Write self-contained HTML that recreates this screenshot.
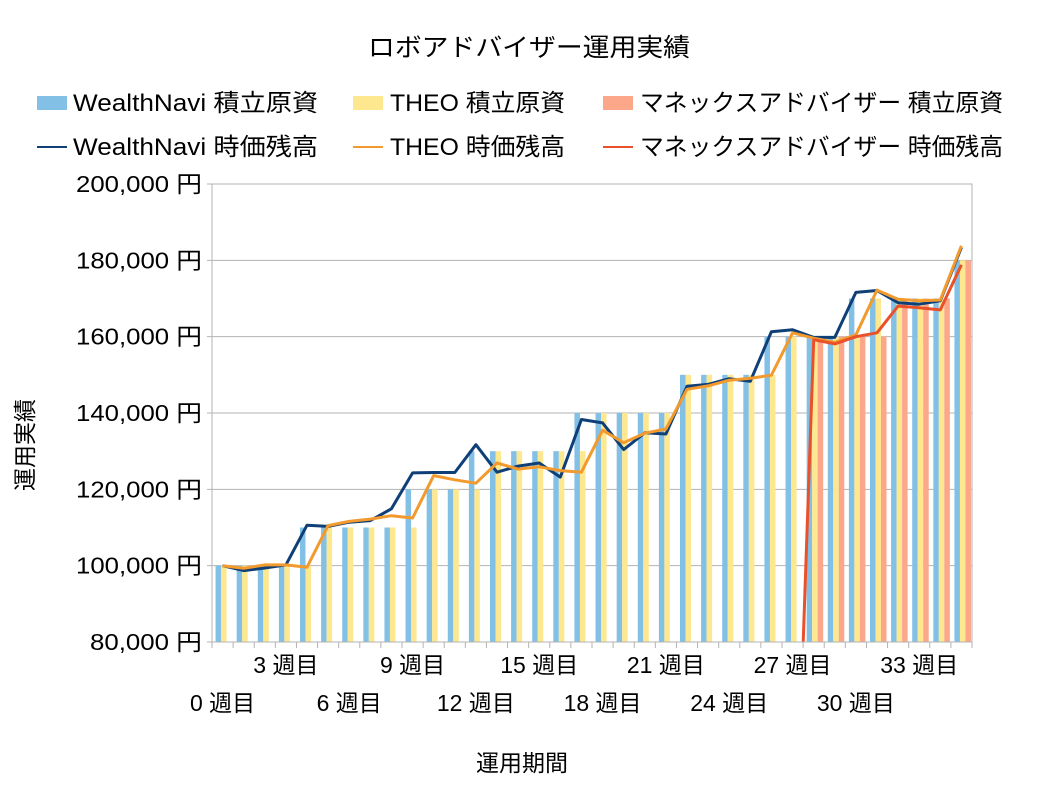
<!DOCTYPE html>
<html><head><meta charset="utf-8">
<style>
html,body{margin:0;padding:0;background:#fff;width:1058px;height:794px;overflow:hidden;}
svg{display:block;font-family:"Liberation Sans","Noto Sans CJK JP",sans-serif;}
</style></head>
<body>
<svg id="chart" width="1058" height="794" viewBox="0 0 1058 794">
<rect width="1058" height="794" fill="#fff"/>
<text x="368" y="56" textLength="322" lengthAdjust="spacingAndGlyphs" font-size="25" fill="#000">ロボアドバイザー運用実績</text>
<g font-size="24" fill="#000">
<rect x="37" y="96" width="30" height="14" fill="#83c0e6"/>
<text x="73" y="111" textLength="245" lengthAdjust="spacingAndGlyphs">WealthNavi 積立原資</text>
<rect x="353" y="96" width="30" height="14" fill="#fde78f"/>
<text x="390" y="111" textLength="175" lengthAdjust="spacingAndGlyphs">THEO 積立原資</text>
<rect x="603" y="96" width="30" height="14" fill="#fca68a"/>
<text x="640" y="111" textLength="363" lengthAdjust="spacingAndGlyphs">マネックスアドバイザー 積立原資</text>
<line x1="37" y1="147" x2="67" y2="147" stroke="#0f3f77" stroke-width="2"/>
<text x="73" y="155" textLength="245" lengthAdjust="spacingAndGlyphs">WealthNavi 時価残高</text>
<line x1="353" y1="147" x2="383" y2="147" stroke="#f29a2e" stroke-width="2"/>
<text x="390" y="155" textLength="175" lengthAdjust="spacingAndGlyphs">THEO 時価残高</text>
<line x1="603" y1="147" x2="633" y2="147" stroke="#e8512a" stroke-width="2"/>
<text x="640" y="155" textLength="363" lengthAdjust="spacingAndGlyphs">マネックスアドバイザー 時価残高</text>
</g>
<defs><clipPath id="plotclip"><rect x="212" y="184" width="760" height="458"/></clipPath></defs>
<g id="grid"></g>
<g id="bars" clip-path="url(#plotclip)"></g>
<g id="lines" clip-path="url(#plotclip)"></g>
<g id="axes"></g>
<text x="522" y="771" text-anchor="middle" font-size="23">運用期間</text>
<text transform="translate(33,445) rotate(-90)" text-anchor="middle" font-size="23">運用実績</text>
</svg>
<script>
const weeks = Array.from({length:36},(_,i)=>i);
const wnPrincipal = [100,100,100,100,110,110,110,110,110,120,120,120,130,130,130,130,130,140,140,140,140,140,150,150,150,150,160,160,160,160,170,170,170,170,170,180];
const theoPrincipal = [100,100,100,100,100,110,110,110,110,110,120,120,120,130,130,130,130,130,140,140,140,140,150,150,150,150,150,160,160,160,160,170,170,170,170,180];
const monexPrincipal = [0,0,0,0,0,0,0,0,0,0,0,0,0,0,0,0,0,0,0,0,0,0,0,0,0,0,0,0,160,160,160,160,170,170,170,180];
const wnValue = [100,98.7,99.4,100.2,110.6,110.3,111.4,111.8,114.9,124.3,124.4,124.4,131.7,124.5,126.1,126.9,123.2,138.3,137.4,130.4,134.8,134.5,147,147.5,149,148.3,161.3,161.8,159.8,159.8,171.6,172.1,168.9,168.5,169.4,183.4];
const theoValue = [100,99.3,100.2,100.2,99.6,110.5,111.6,112.2,113.1,112.5,123.6,122.5,121.6,126.9,125.3,125.9,124.9,124.5,135.5,132.2,134.7,135.8,146.2,147.1,148.6,149.1,149.9,161,159.6,158.5,160.5,172.2,169.8,169.4,169.6,183.8];
const monexValue = [null,null,null,null,null,null,null,null,null,null,null,null,null,null,null,null,null,null,null,null,null,null,null,null,null,null,null,0,159.2,158.1,160,161,168,167.6,167,178.8];
const yTicks = [80,100,120,140,160,180,200];
const yTickLabels = ["80,000 円","100,000 円","120,000 円","140,000 円","160,000 円","180,000 円","200,000 円"];
const xLabelWeeks = [0,3,6,9,12,15,18,21,24,27,30,33];

const NS="http://www.w3.org/2000/svg";
const X0=212,X1=972,Y0=642,Y1=184,VMIN=80,VMAX=200;
const bw=(X1-X0)/weeks.length;
const xC=i=>X0+bw*(i+0.5);
const yS=v=>Y0-(v-VMIN)/(VMAX-VMIN)*(Y0-Y1);
function mk(tag,attrs,parent){const e=document.createElementNS(NS,tag);for(const k in attrs)e.setAttribute(k,attrs[k]);parent.appendChild(e);return e;}
const grid=document.getElementById('grid'),bars=document.getElementById('bars'),lines=document.getElementById('lines'),axes=document.getElementById('axes');
yTicks.forEach((t,i)=>{
  const l=mk('line',{x1:X0-5,x2:X1,y1:yS(t),y2:yS(t),stroke:'#b3b3b3','stroke-width':1},grid);
  
  
  const lbl=yTickLabels[i];
  const tx=mk('text',{x:X0-10,y:yS(t)+8,'text-anchor':'end','font-size':23,fill:'#000',textLength:lbl.length*14,lengthAdjust:'spacingAndGlyphs'},axes);
  tx.textContent=lbl;
  
  
});
const border=mk('rect',{x:X0,y:Y1,width:X1-X0,height:Y0-Y1,fill:'none',stroke:'#b3b3b3','stroke-width':1},axes);


for(let i=0;i<=weeks.length;i++){
  const t=mk('line',{x1:X0+bw*i,x2:X0+bw*i,y1:Y0,y2:Y0+6,stroke:'#b3b3b3'},axes);
  
  
}
xLabelWeeks.forEach((w,k)=>{
  const tx=mk('text',{x:xC(w),y:(k%2? 673:711),'text-anchor':'middle','font-size':23,fill:'#000'},axes);
  tx.textContent=weeks[w]+' 週目';
  
  
});
const series=[[wnPrincipal,'#83c0e6',-7,'bar-wealthnavi-principal'],[theoPrincipal,'#fde78f',-1.5,'bar-theo-principal'],[monexPrincipal,'#fca68a',4,'bar-monex-principal']];
series.forEach(([arr,col,off,name])=>{
  arr.forEach((v,i)=>{
    if(!v)return;
    const top=yS(v);
    const r=mk('rect',{x:xC(i)+off,y:top,width:5.5,height:Math.max(0,Y0-top),fill:col},bars);
    
    
  });
});
const lineSeries=[[wnValue,'#0f3f77','line-wealthnavi-value'],[theoValue,'#f29a2e','line-theo-value'],[monexValue,'#e8512a','line-monex-value']];
lineSeries.forEach(([arr,col,name])=>{
  const pts=[];arr.forEach((v,i)=>{if(v!==null)pts.push(xC(i).toFixed(1)+','+yS(v).toFixed(1));});
  const p=mk('polyline',{points:pts.join(' '),fill:'none',stroke:col,'stroke-width':3,'stroke-linejoin':'round'},lines);
  
  
});
</script>
</body></html>
